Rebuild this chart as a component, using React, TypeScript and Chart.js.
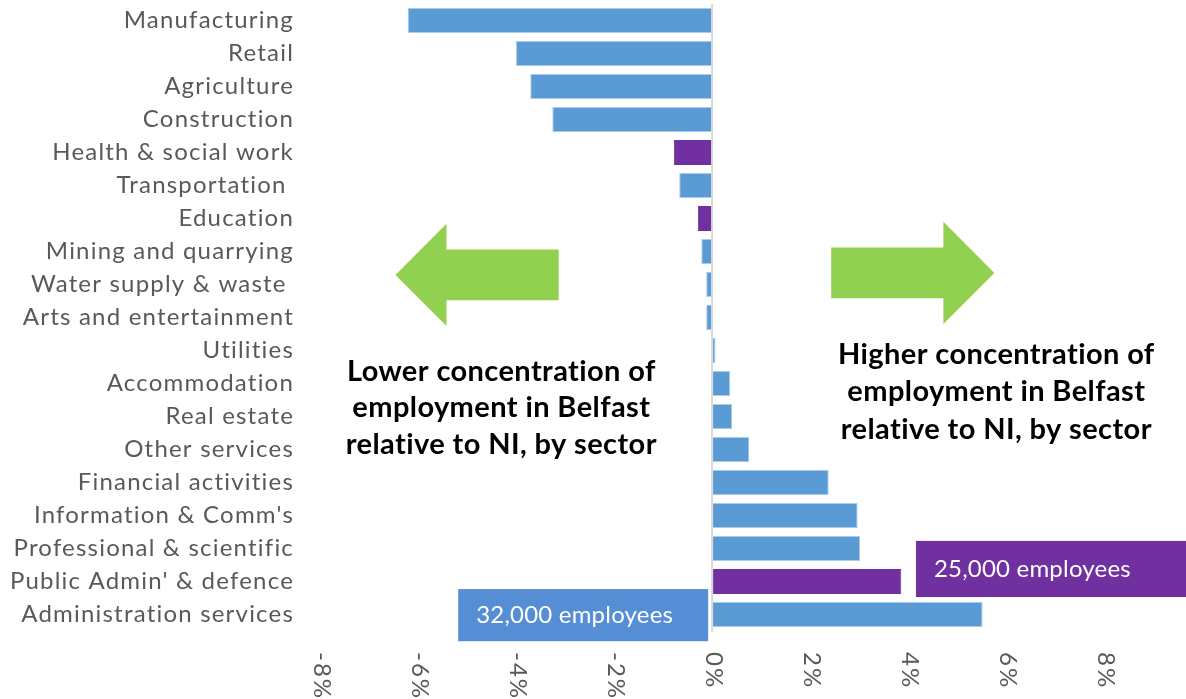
import React, { useEffect, useRef } from "react";
import { Chart, registerables } from "chart.js";

Chart.register(...registerables);

const sectors = [
  "Manufacturing",
  "Retail",
  "Agriculture",
  "Construction",
  "Health & social work",
  "Transportation ",
  "Education",
  "Mining and quarrying",
  "Water supply & waste ",
  "Arts and entertainment",
  "Utilities",
  "Accommodation",
  "Real estate",
  "Other services",
  "Financial activities",
  "Information & Comm's",
  "Professional & scientific",
  "Public Admin' & defence",
  "Administration services",
];

const shareDifference = [
  -6.21, -4.0, -3.71, -3.26, -0.78, -0.67, -0.29, -0.22, -0.12, -0.12,
  0.07, 0.37, 0.41, 0.76, 2.38, 2.97, 3.02, 3.86, 5.52,
];

const publicSector = [
  false, false, false, false, true, false, true, false, false, false,
  false, false, false, false, false, false, false, true, false,
];

const tickValues = [-8, -6, -4, -2, 0, 2, 4, 6, 8];

const BLUE = "#5B9BD5";
const BLUE_EDGE = "#A9CBEA";
const PURPLE = "#7030A0";
const BOX_BLUE = "#558ED5";
const GREEN = "#92D050";
const GREY_TEXT = "#595959";
const FONT = "Lato, 'Open Sans', sans-serif";

// annotation callouts (positions in data units: x = %, y = category index)
const callouts = [
  { text: "32,000 employees", x0: -5.18, x1: -0.08, yc: 18.02, half: 0.79, color: BOX_BLUE },
  { text: "25,000 employees", x0: 4.16, x1: 9.67, yc: 16.62, half: 0.85, color: PURPLE },
];

const arrows = [
  { tail: -3.13, base: -5.42, tip: -6.46, yc: 7.71, shaft: 0.77, head: 1.55 },
  { tail: 2.43, base: 4.72, tip: 5.76, yc: 7.65, shaft: 0.77, head: 1.55 },
];

const captions = [
  { lines: ["Lower concentration of", "employment in Belfast", "relative to NI, by sector"], xc: -4.3, y0: 10.92, step: 1.107 },
  { lines: ["Higher concentration of", "employment in Belfast", "relative to NI, by sector"], xc: 5.8, y0: 10.40, step: 1.14 },
];

const spacingPlugin = {
  id: "spacing",
  beforeDraw(chart: any) {
    chart.ctx.letterSpacing = "1.2px";
  },
};

const overlayPlugin = {
  id: "overlay",
  afterDatasetsDraw(chart: any) {
    const { ctx, scales, chartArea } = chart;
    const xs = scales.x;
    const ys = scales.y;
    const px = (v: number) => xs.getPixelForValue(v);
    const py = (v: number) => ys.getPixelForValue(v);
    ctx.save();

    // zero line
    ctx.strokeStyle = "#D9D9D9";
    ctx.lineWidth = 2;
    ctx.beginPath();
    ctx.moveTo(px(0), chartArea.top);
    ctx.lineTo(px(0), chartArea.bottom + 1);
    ctx.stroke();

    // arrows
    ctx.fillStyle = GREEN;
    arrows.forEach((a) => {
      const ycp = py(a.yc);
      const sh = py(a.yc + a.shaft) - ycp;
      const hh = py(a.yc + a.head) - ycp;
      ctx.beginPath();
      ctx.moveTo(px(a.tail), ycp - sh);
      ctx.lineTo(px(a.base), ycp - sh);
      ctx.lineTo(px(a.base), ycp - hh);
      ctx.lineTo(px(a.tip), ycp);
      ctx.lineTo(px(a.base), ycp + hh);
      ctx.lineTo(px(a.base), ycp + sh);
      ctx.lineTo(px(a.tail), ycp + sh);
      ctx.closePath();
      ctx.fill();
    });

    // callout boxes
    callouts.forEach((c) => {
      const top = py(c.yc - c.half);
      const bot = py(c.yc + c.half);
      const l = px(c.x0);
      const r = px(c.x1);
      ctx.fillStyle = c.color;
      ctx.fillRect(l, top, r - l, bot - top);
      ctx.fillStyle = "#FFFFFF";
      ctx.font = `24px ${FONT}`;
      ctx.letterSpacing = "0.2px";
      ctx.textAlign = "left";
      ctx.textBaseline = "middle";
      ctx.fillText(c.text, l + 18, (top + bot) / 2);
    });

    // captions
    ctx.fillStyle = "#000000";
    ctx.font = `bold 29px ${FONT}`;
    ctx.letterSpacing = "0.4px";
    ctx.textAlign = "center";
    ctx.textBaseline = "alphabetic";
    captions.forEach((c) => {
      c.lines.forEach((line, i) => {
        ctx.fillText(line, px(c.xc), py(c.y0 + i * c.step));
      });
    });

    // x tick labels, rotated clockwise
    ctx.fillStyle = GREY_TEXT;
    ctx.font = `24px ${FONT}`;
    ctx.letterSpacing = "2px";
    ctx.textAlign = "left";
    ctx.textBaseline = "middle";
    tickValues.forEach((v) => {
      ctx.save();
      ctx.translate(px(v) + 2, chartArea.bottom + 21);
      ctx.rotate(Math.PI / 2);
      ctx.fillText(`${v}%`, 0, 0);
      ctx.restore();
    });

    ctx.restore();
    ctx.letterSpacing = "0px";
  },
};

export default function App() {
  const canvasRef = useRef<HTMLCanvasElement | null>(null);

  useEffect(() => {
    document.body.style.margin = "0";
    const canvas = canvasRef.current;
    if (!canvas) return;
    const chart = new Chart(canvas, {
      type: "bar",
      data: {
        labels: sectors,
        datasets: [
          {
            data: shareDifference,
            backgroundColor: publicSector.map((p) => (p ? PURPLE : BLUE)),
            borderColor: publicSector.map((p) => (p ? PURPLE : BLUE_EDGE)),
            borderWidth: 1,
            borderSkipped: false,
            barPercentage: 0.76,
            categoryPercentage: 1,
          },
        ],
      },
      options: {
        indexAxis: "y",
        animation: false,
        responsive: true,
        maintainAspectRatio: false,
        layout: { padding: { top: 4, left: 0, right: 0, bottom: 0 } },
        plugins: {
          legend: { display: false },
          tooltip: { enabled: false },
        },
        scales: {
          x: {
            type: "linear",
            min: -8,
            max: 9.67,
            grid: { display: false, drawTicks: false },
            border: { display: false },
            ticks: { display: false },
            afterFit: (scale: any) => {
              scale.height = 68;
              scale.paddingLeft = 0;
              scale.paddingRight = 0;
            },
          },
          y: {
            type: "category",
            grid: { display: false, drawTicks: false },
            border: { display: false },
            ticks: {
              color: GREY_TEXT,
              font: { family: FONT, size: 24 },
              padding: 26,
              autoSkip: false,
            },
            afterFit: (scale: any) => {
              scale.width = 320;
              scale.paddingTop = 0;
              scale.paddingBottom = 0;
            },
          },
        },
      },
      plugins: [spacingPlugin, overlayPlugin],
    });
    return () => chart.destroy();
  }, []);

  return (
    <div style={{ position: "absolute", left: 0, top: 0, width: 1186, height: 699, background: "#fff" }}>
      <canvas ref={canvasRef} />
    </div>
  );
}
